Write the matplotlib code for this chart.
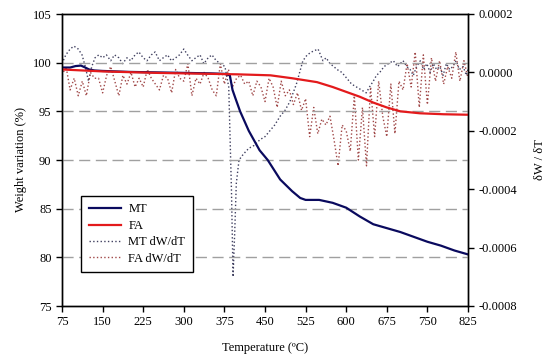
import matplotlib
matplotlib.use("Agg")
import matplotlib.pyplot as plt
from matplotlib.ticker import FormatStrFormatter

plt.rcParams['font.family'] = ['Liberation Serif', 'DejaVu Serif']
plt.rcParams['font.size'] = 9

# Weight curves (%)
mt_T = [75, 90, 100, 110, 118, 125, 135, 150, 200, 250, 300, 350, 375, 385,
        390, 395, 404, 420, 440, 455, 478, 500, 515, 525, 550, 575, 600, 625,
        650, 675, 700, 725, 750, 775, 800, 825]
mt_w = [99.5, 99.5, 99.65, 99.7, 99.5, 99.3, 99.2, 99.15, 99.05, 99.0, 98.95,
        98.9, 98.85, 98.7, 97.2, 96.4, 95.0, 93.0, 91.0, 90.0, 88.0, 86.8, 86.1,
        85.9, 85.9, 85.6, 85.1, 84.2, 83.4, 83.0, 82.6, 82.1, 81.6, 81.2, 80.7, 80.3]

fa_T = [75, 150, 250, 350, 400, 460, 500, 546, 575, 600, 625, 650, 675, 700,
        736, 780, 825]
fa_w = [99.3, 99.1, 98.95, 98.85, 98.8, 98.7, 98.4, 98.0, 97.5, 97.0, 96.5,
        95.9, 95.4, 95.0, 94.8, 94.7, 94.65]

# Derivative curves (dW/dT)
mtd_T = [75, 82, 90, 97, 105, 112, 118, 124, 130, 136, 143, 150, 157, 165, 172,
         180, 187, 195, 202, 210, 217, 225, 232, 240, 247, 255, 262, 270, 277,
         285, 292, 300, 307, 315, 322, 330, 337, 345, 352, 360, 368, 376, 383,
         388, 391, 394, 397, 402, 410, 420, 430, 441, 450, 459, 468, 478, 487,
         496, 502, 508, 514, 520, 528, 536, 548, 557, 563, 570, 577, 583, 592,
         601, 610, 619, 628, 637, 643, 650, 656, 662, 670, 678, 687, 695, 705,
         712, 718, 724, 730, 737, 743, 749, 755, 761, 767, 773, 779, 785, 791,
         797, 803, 809, 816, 822, 825]
mtd_v = [0.00003, 0.00006, 0.00008, 0.00009, 0.00008, 0.00006, 0.00002, -0.00003,
         0.00002, 0.00005, 0.00006, 0.00005, 0.00006, 0.00004, 0.00006, 0.00005,
         0.00003, 0.00005, 0.00004, 0.00006, 0.00007, 0.00005, 0.00004, 0.00006,
         0.00007, 0.00004, 0.00005, 0.00006, 0.00004, 0.00005, 0.00006, 0.00008,
         0.00006, 0.00004, 0.00005, 0.00006, 0.00003, 0.00005, 0.00006, 0.00004,
         0.00003, 0.00002, -0.00005, -0.0004, -0.0007, -0.00055, -0.00038, -0.0003,
         -0.00028, -0.00026, -0.00025, -0.00023, -0.00022, -0.0002, -0.00018,
         -0.00015, -0.00013, -0.0001, -0.00007, -0.00004, 0.0, 0.00004, 0.00006,
         0.00007, 0.00008, 0.00004, 0.00005, 0.00003, 0.00002, 0.00001, 0.0,
         -0.00002, -0.00004, -0.00005, -0.00006, -0.00007, -0.00005, -0.00003,
         -0.00001, 0.0, 0.00002, 0.00003, 0.00004, 0.00002, 0.00004, 0.00002,
         0.00001, -0.00001, 0.00002, 0.00004, 0.00001, 0.00003, 0.0, 0.00003,
         0.00001, 0.00002, -0.00001, 0.00003, 0.00001, 0.00002, 0.00004, 0.00001,
         0.00002, -0.00001, 0.00001]

fad_T = [75 + 7.5 * i for i in range(101)]
fad_v = [-0.00001, 0.00002, -0.00006, -0.00002, -0.00008, -0.00003, -0.00008, 0.0,
         -0.00002, -0.00002, -0.00007, -0.00001, 0.00002, -0.00003, -0.00008,
         -0.00001, -0.00004, 0.0, -0.00005, -0.00002, -0.00005, 0.00001, -0.00002,
         -0.00004, -0.00006, -0.00001, -0.00002, -0.00007, 0.00001, -0.00002,
         -0.00003, 0.00003, -0.00008, -0.00002, -0.00004, 0.0, -0.00002, -0.00006,
         -0.00008, 0.00003, -0.00004, 0.00001, -0.00005, -0.00002, -0.00001,
         -0.00004, -0.00003, -0.00008, -0.00003, -0.00005, -0.0001, -0.00002,
         -0.00005, -0.00012, -0.00003, -0.00008, -0.00006, -0.00011, -0.00007,
         -0.00013, -0.00009, -0.00022, -0.00012, -0.00021, -0.00016, -0.00018,
         -0.00015, -0.00023, -0.00032, -0.00018, -0.0002, -0.00027, -0.00008,
         -0.0003, -0.00012, -0.00032, -0.00005, -0.00022, -0.00003, -0.00015,
         -0.00022, -0.00004, -0.00021, -0.00003, -0.00006, 0.00003, -0.00005,
         0.00007, -0.00012, 0.00006, -0.00011, 0.00005, -0.00003, 0.00004,
         -0.00004, 0.00002, -0.00002, 0.00007, -0.00003, 0.00004, -0.00002]

x_ticks = [75, 150, 225, 300, 375, 450, 525, 600, 675, 750, 825]
y_ticks = [75, 80, 85, 90, 95, 100, 105]
y2_ticks = [-0.0008, -0.0006, -0.0004, -0.0002, 0.0, 0.0002]

fig = plt.figure(figsize=(5.5, 3.59), dpi=100)
ax = fig.add_axes([62 / 550, 1 - 306 / 359, (468 - 62) / 550, (306 - 14) / 359])
ax2 = ax.twinx()

for yv in [80, 85, 90, 95, 100]:
    ax.axhline(yv, color='#a0a0a0', lw=1.0, dashes=(8, 4), zorder=0)

l3, = ax2.plot(mtd_T, mtd_v, color='#404060', ls=':', lw=1.0, label='MT dW/dT')
l4, = ax2.plot(fad_T, fad_v, color='#a04848', ls=':', lw=1.0, label='FA dW/dT')
l1, = ax.plot(mt_T, mt_w, color='#0a0a5e', lw=1.6, label='MT')
l2, = ax.plot(fa_T, fa_w, color='#e31a1c', lw=1.6, label='FA')

ax.set_zorder(ax2.get_zorder() + 1)
ax.patch.set_visible(False)

ax.set_xlim(75, 825)
ax.set_ylim(75, 105)
ax2.set_ylim(-0.0008, 0.0002)
ax.set_xticks(x_ticks)
ax.set_yticks(y_ticks)
ax2.set_yticks(y2_ticks)
ax2.yaxis.set_major_formatter(FormatStrFormatter('%.4f'))

for a in (ax, ax2):
    a.tick_params(direction='out', length=4, width=1, labelsize=9, colors='black')
    for s in a.spines.values():
        s.set_linewidth(1.0)

ax.set_xlabel('Temperature (ºC)', fontsize=9, labelpad=10)
ax.set_ylabel('Weight variation (%)', fontsize=9, labelpad=4)
ax2.set_ylabel('δW / δT', fontsize=9, labelpad=12)

leg = ax.legend(handles=[l1, l2, l3, l4], loc='upper left',
                bbox_to_anchor=((81 - 62) / 406, (306 - 196) / 292),
                borderaxespad=0,
                frameon=True, fancybox=False, edgecolor='black', framealpha=1,
                fontsize=9, handlelength=2.6, handletextpad=0.6,
                borderpad=0.6, labelspacing=0.35)
leg.get_frame().set_linewidth(1.0)

fig.savefig('out.png', dpi=100)
